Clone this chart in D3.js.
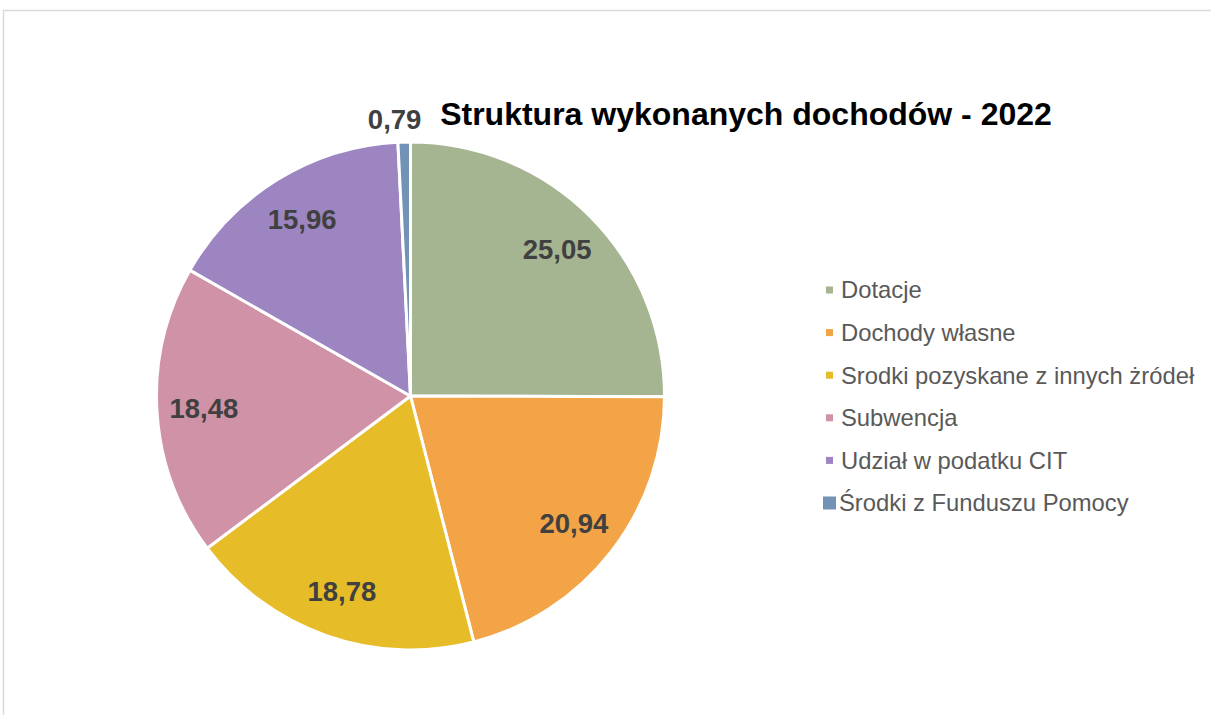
<!DOCTYPE html>
<html><head><meta charset="utf-8">
<script src="https://cdn.jsdelivr.net/npm/d3@7"></script>
<style>html,body{margin:0;padding:0;background:#fff;overflow:hidden}</style>
</head><body>
<svg id="chart" width="1211" height="715"></svg>
<script>
const categories = ["Dotacje","Dochody własne","Srodki pozyskane z innych żródeł","Subwencja","Udział w podatku CIT","Środki z Funduszu Pomocy"];
const values = [25.05, 20.94, 18.78, 18.48, 15.96, 0.79];
const labels = ["25,05","20,94","18,78","18,48","15,96","0,79"];
const colors = ["#a5b592","#f3a447","#e7bc29","#d092a7","#9c85c0","#7393b6"];
const title = "Struktura wykonanych dochodów - 2022";

const svg = d3.select("#chart");
const FONT = "'Liberation Sans', Arial, sans-serif";

svg.append("rect").attr("x",3.5).attr("y",10.5).attr("width",1400).attr("height",900)
  .attr("fill","#fff").attr("stroke","#d9d9d9").attr("stroke-width",1.5);

const cx = 410.5, cy = 396, R = 254;
const pie = d3.pie().sort(null).value(d => d)(values);
const arc = d3.arc().innerRadius(0).outerRadius(R);
const g = svg.append("g").attr("transform",`translate(${cx},${cy})`);
g.selectAll("path").data(pie).join("path")
  .attr("d", arc).attr("fill",(d,i)=>colors[i])
  .attr("stroke","#fff").attr("stroke-width",3).attr("stroke-linejoin","round");

const inArc = d3.arc().innerRadius(R*0.815).outerRadius(R*0.815);
const outArc = d3.arc().innerRadius(R*1.09).outerRadius(R*1.09);
g.selectAll("text.lbl").data(pie).join("text").attr("class","lbl")
  .attr("transform", d => {
    const c = (d.data < 2 ? outArc : inArc).centroid(d);
    return `translate(${c[0] - (d.data < 2 ? 9 : 0)},${c[1]})`;
  })
  .attr("text-anchor","middle").attr("dy","0.35em")
  .attr("font-family",FONT).attr("font-weight","bold").attr("font-size",27.5)
  .attr("fill","#404040").text((d,i)=>labels[i]);

svg.append("text").attr("x",746).attr("y",125).attr("text-anchor","middle")
  .attr("font-family",FONT).attr("font-weight","bold").attr("font-size",32)
  .attr("fill","#000").text(title);

const ly = d3.scalePoint().domain(categories).range([290, 503]);
const lg = svg.append("g");
categories.forEach((c,i) => {
  const s = i === categories.length-1 ? 13 : 7;
  lg.append("rect").attr("x", 829.5 - s/2).attr("y", ly(c) - s/2).attr("width", s).attr("height", s)
    .attr("fill", colors[i]);
  lg.append("text").attr("x", i === categories.length-1 ? 839 : 841).attr("y", ly(c)).attr("dy","0.35em")
    .attr("font-family",FONT).attr("font-size",23.8).attr("fill","#595959").text(c);
});
</script>
</body></html>
